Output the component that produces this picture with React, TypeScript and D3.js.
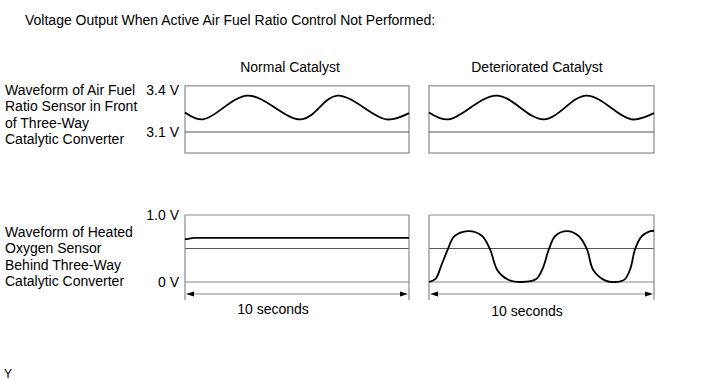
import React from "react";
import * as d3 from "d3";

const title = "Voltage Output When Active Air Fuel Ratio Control Not Performed:";
const columnHeaders = ["Normal Catalyst", "Deteriorated Catalyst"];
const rowLabelsTop = ["Waveform of Air Fuel", "Ratio Sensor in Front", "of Three-Way", "Catalytic Converter"];
const rowLabelsBottom = ["Waveform of Heated", "Oxygen Sensor", "Behind Three-Way", "Catalytic Converter"];
const topTicks = [3.4, 3.1];
const topTickLabels = ["3.4 V", "3.1 V"];
const bottomTicks = [1.0, 0];
const bottomTickLabels = ["1.0 V", "0 V"];
const durationLabel = "10 seconds";

// time in seconds (0..10), voltage
const afNormalT = [0, 0.8, 2.8, 5.2, 6.8, 9.0, 10];
const afNormalV = [3.24, 3.19, 3.36, 3.19, 3.36, 3.19, 3.235];
const afDetT = [0, 0.85, 3.0, 5.1, 7.0, 9.0, 10];
const afDetV = [3.24, 3.19, 3.36, 3.19, 3.36, 3.19, 3.235];
const o2NormalT = [0, 0.15, 0.4, 10];
const o2NormalV = [0.64, 0.645, 0.66, 0.66];
const o2DetT = [0, 0.3, 0.55, 0.84, 1.12, 1.73, 2.35, 2.71, 3.05, 3.55, 4.13, 4.75, 5.05, 5.33, 5.62, 6.13, 6.64, 7.02, 7.3, 7.85, 8.3, 8.7, 8.95, 9.16, 9.45, 9.8, 10];
const o2DetV = [0.0, 0.05, 0.25, 0.49, 0.68, 0.76, 0.69, 0.49, 0.17, 0.03, 0.0, 0.04, 0.2, 0.49, 0.69, 0.76, 0.69, 0.49, 0.18, 0.02, 0.0, 0.04, 0.2, 0.49, 0.68, 0.755, 0.765];

const font = "Liberation Sans, Arial, sans-serif";

export default function App() {
  const W = 713, H = 381;
  const panels = [
    { x0: 185, x1: 409 },
    { x0: 429, x1: 654 },
  ];
  const yTop = d3.scaleLinear().domain([3.1, 3.4]).range([132, 90]);
  const yBot = d3.scaleLinear().domain([0, 1]).range([282, 215]);
  const topBox = [3.43, 2.95];
  const topRef = 3.1;
  const botRef = [1.0, 0.5, 0];
  const arrowY = 294;
  const gridColor = "#555";
  const boxColor = "#8a8a8a";
  const fs = 14;

  const makeX = (p: { x0: number; x1: number }) => d3.scaleLinear().domain([0, 10]).range([p.x0, p.x1]);

  const lineFor = (x: d3.ScaleLinear<number, number>, y: d3.ScaleLinear<number, number>, ts: number[], vs: number[], curve: any) =>
    d3.line<number>().x((_, i) => x(ts[i])).y((v) => y(v)).curve(curve)(vs) || "";

  const afSeries = [
    { t: afNormalT, v: afNormalV },
    { t: afDetT, v: afDetV },
  ];
  const o2Series = [
    { t: o2NormalT, v: o2NormalV, curve: d3.curveMonotoneX },
    { t: o2DetT, v: o2DetV, curve: d3.curveCatmullRom.alpha(0.5) },
  ];

  return (
    <svg width={W} height={H} style={{ display: "block", position: "absolute", left: 0, top: 0 }} fontFamily={font}>
      <rect width={W} height={H} fill="#fff" />
      <text x={25} y={25} fontSize={fs} fill="#000">{title}</text>
      {columnHeaders.map((h, i) => (
        <text key={h} x={i === 0 ? 290 : 537} y={72} fontSize={fs} textAnchor="middle" fill="#000">{h}</text>
      ))}
      {rowLabelsTop.map((l, i) => (
        <text key={l} x={5} y={95 + i * 16.3} fontSize={fs} fill="#000">{l}</text>
      ))}
      {rowLabelsBottom.map((l, i) => (
        <text key={l} x={5} y={237 + i * 16.3} fontSize={fs} fill="#000">{l}</text>
      ))}
      {topTicks.map((t, i) => (
        <text key={t} x={179} y={yTop(t) + 5} fontSize={fs} textAnchor="end" fill="#000">{topTickLabels[i]}</text>
      ))}
      {bottomTicks.map((t, i) => (
        <text key={t} x={179} y={yBot(t) + 5} fontSize={fs} textAnchor="end" fill="#000">{bottomTickLabels[i]}</text>
      ))}
      {panels.map((p, pi) => {
        const x = makeX(p);
        return (
          <g key={pi}>
            <rect x={p.x0} y={yTop(topBox[0])} width={p.x1 - p.x0} height={yTop(topBox[1]) - yTop(topBox[0])} fill="none" stroke={boxColor} strokeWidth={1.2} />
            <line x1={p.x0} x2={p.x1} y1={yTop(topRef)} y2={yTop(topRef)} stroke={gridColor} strokeWidth={1} />
            <path d={lineFor(x, yTop, afSeries[pi].t, afSeries[pi].v, d3.curveCatmullRom.alpha(0.5))} fill="none" stroke="#000" strokeWidth={1.8} />
            {botRef.map((r) => (
              <line key={r} x1={p.x0} x2={p.x1} y1={yBot(r)} y2={yBot(r)} stroke={r === 0.5 ? gridColor : boxColor} strokeWidth={1.1} />
            ))}
            <line x1={p.x0} x2={p.x0} y1={yBot(1)} y2={arrowY + 6} stroke={boxColor} strokeWidth={1.2} />
            <line x1={p.x1} x2={p.x1} y1={yBot(1)} y2={arrowY + 6} stroke={boxColor} strokeWidth={1.2} />
            <path d={lineFor(x, yBot, o2Series[pi].t, o2Series[pi].v, o2Series[pi].curve)} fill="none" stroke="#000" strokeWidth={1.8} />
            <line x1={x(0) + 4} x2={x(10) - 4} y1={arrowY} y2={arrowY} stroke={boxColor} strokeWidth={1.2} />
            <path d={`M${x(0) + 1},${arrowY} L${x(0) + 9},${arrowY - 2.5} L${x(0) + 9},${arrowY + 2.5} Z`} fill="#000" />
            <path d={`M${x(10) - 1},${arrowY} L${x(10) - 9},${arrowY - 2.5} L${x(10) - 9},${arrowY + 2.5} Z`} fill="#000" />
            <text x={pi === 0 ? 273 : 527} y={pi === 0 ? 314 : 316} fontSize={fs} textAnchor="middle" fill="#000">{durationLabel}</text>
          </g>
        );
      })}
      <text x={4} y={378} fontSize={12} fill="#000">Y</text>
    </svg>
  );
}
